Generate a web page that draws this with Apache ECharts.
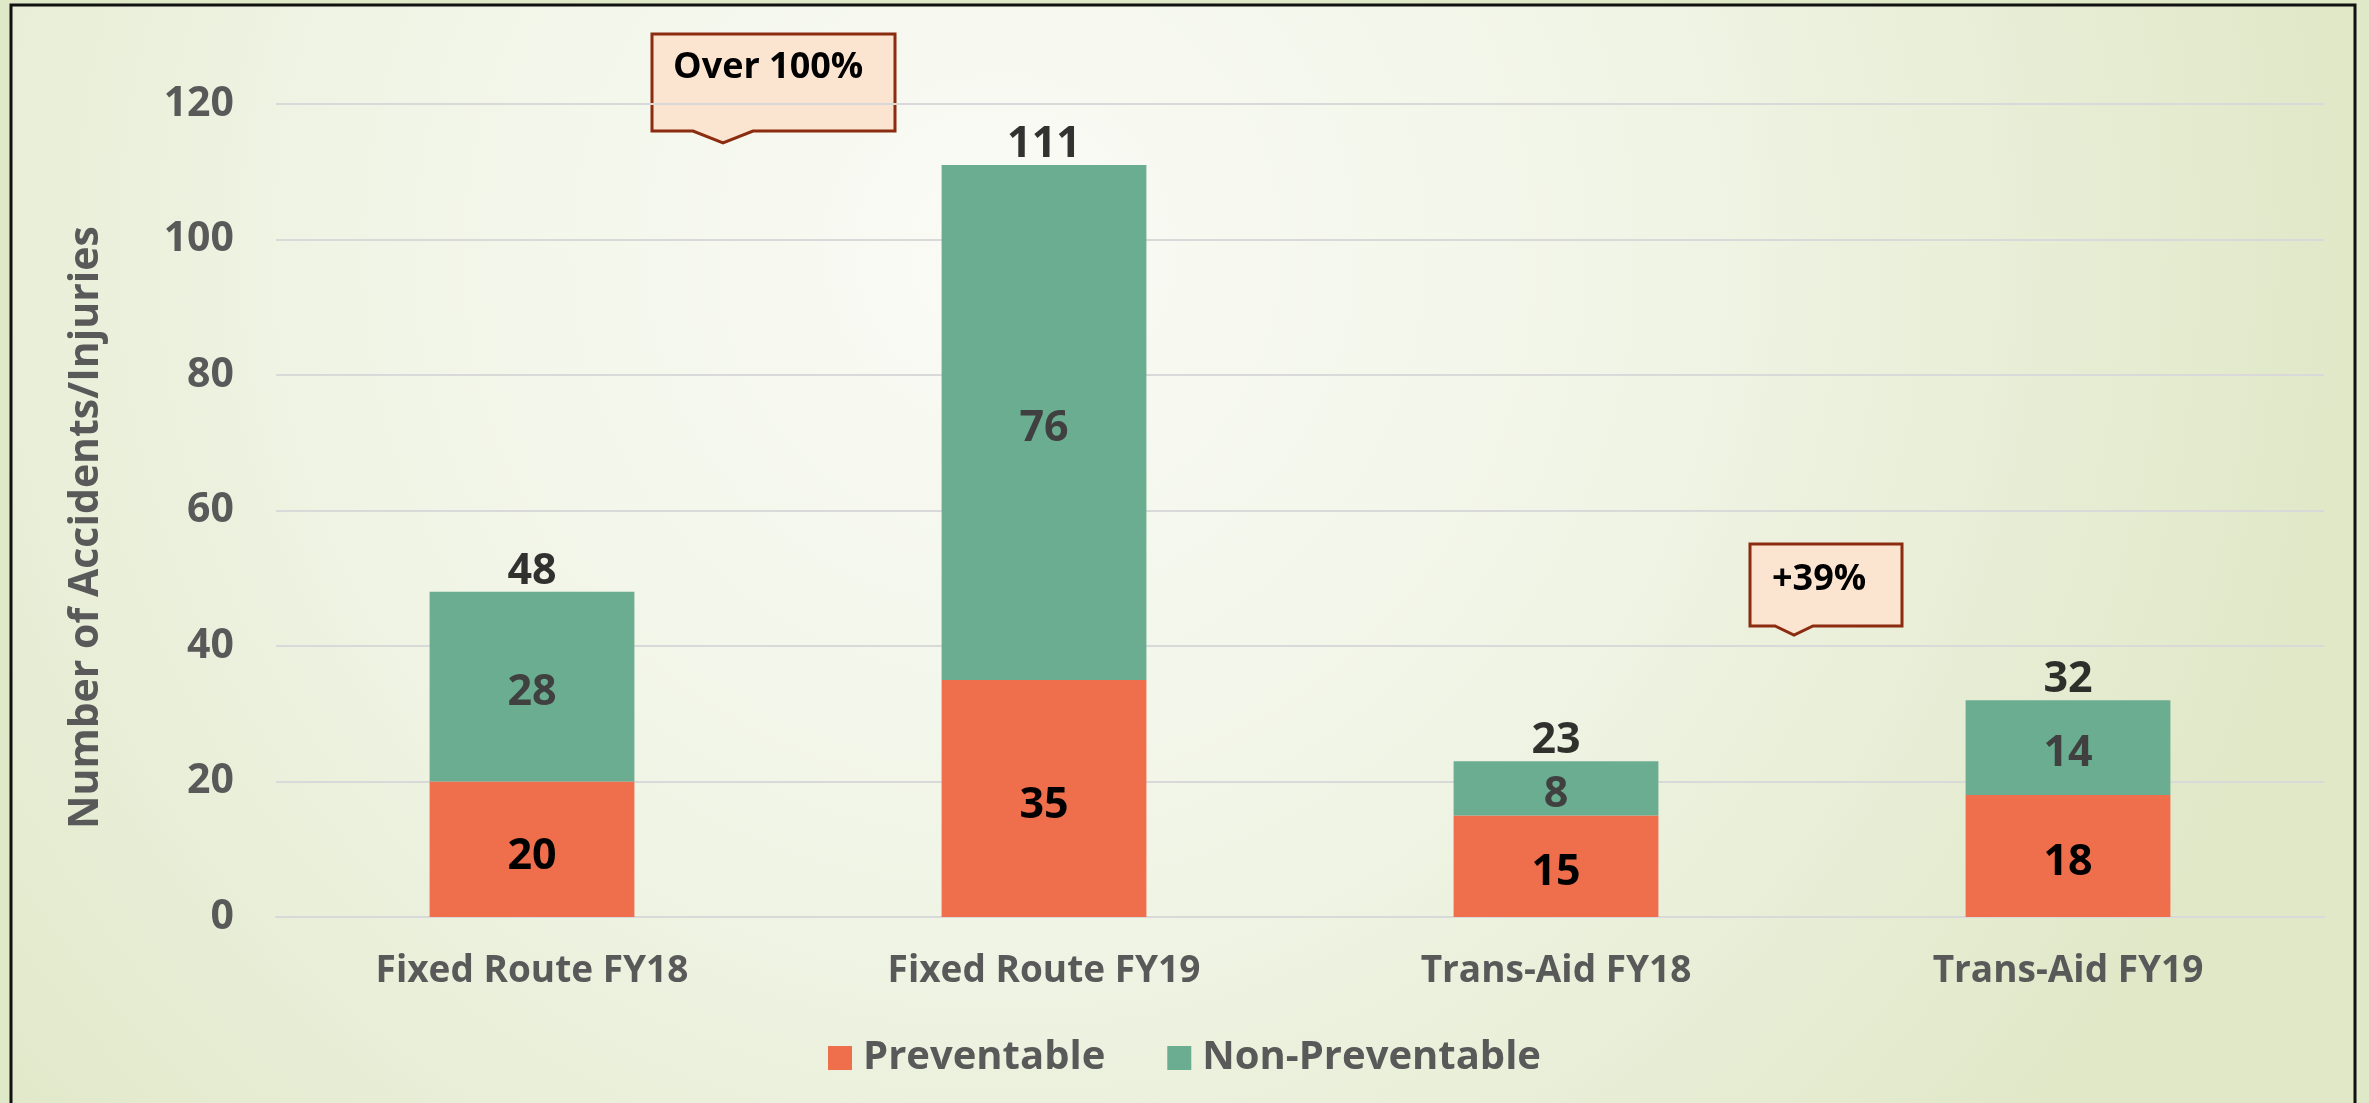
<!DOCTYPE html>
<html>
<head>
<meta charset="utf-8">
<script src="https://cdn.jsdelivr.net/npm/echarts@6/dist/echarts.min.js"></script>
<style>
    body { margin: 0; }
    #chart { width: 2369px; height: 1103px; }
</style>
</head>
<body>
<div id="chart"></div>
<script>
let categories = ['Fixed Route FY18', 'Fixed Route FY19', 'Trans-Aid FY18', 'Trans-Aid FY19']
let preventable = [20, 35, 15, 18]
let non_preventable = [28, 76, 8, 14]
let totals = [48, 111, 23, 32]
let y_ticks = [0, 20, 40, 60, 80, 100, 120]

const font = 'Open Sans'
const grey_text = '#595959'

function callout(points, text, tx, ty) {
    return {
        type: 'group',
        children: [
            {
                type: 'polygon',
                shape: { points: points },
                style: { fill: '#fbe5d1', stroke: '#8b2b10', lineWidth: 3 }
            },
            {
                type: 'text',
                x: tx,
                y: ty,
                style: {
                    text: text,
                    fill: '#000',
                    font: 'bold 36px "' + font + '"',
                    textVerticalAlign: 'middle'
                }
            }
        ]
    }
}

let option = {
    backgroundColor: '#dfe8c7',
    textStyle: { fontFamily: font },
    graphic: [
        {
            type: 'rect',
            z: -100,
            shape: { x: 11, y: 5, width: 2344, height: 1110 },
            style: {
                fill: {
                    type: 'radial', x: 1000, y: 250, r: 1350, global: true,
                    colorStops: [
                        { offset: 0, color: '#fafbf6' },
                        { offset: 0.5, color: '#f0f4e5' },
                        { offset: 1, color: '#e0e8c8' }
                    ]
                },
                stroke: '#111',
                lineWidth: 3
            }
        },
        callout([[652, 34], [895, 34], [895, 131], [753, 131], [723, 143], [693, 131], [652, 131]], 'Over 100%', 673, 68),
        callout([[1750, 544], [1902, 544], [1902, 626], [1813, 626], [1794, 635], [1775, 626], [1750, 626]], '+39%', 1772, 580)
    ],
    legend: {
        data: ['Preventable', 'Non-Preventable'],
        bottom: 20,
        left: 'center',
        icon: 'rect',
        itemWidth: 24,
        itemHeight: 24,
        itemGap: 62,
        textStyle: {
            fontSize: 40,
            fontWeight: 'bold',
            color: grey_text,
            fontFamily: font,
            padding: [0, 0, 0, 6]
        }
    },
    grid: {
        left: 276,
        right: 45,
        top: 104,
        bottom: 186
    },
    xAxis: {
        type: 'category',
        data: categories,
        axisTick: { show: false },
        axisLine: { lineStyle: { color: '#d9d9d9', width: 2 } },
        axisLabel: {
            margin: 36,
            fontSize: 37,
            fontWeight: 'bold',
            color: grey_text,
            fontFamily: font
        }
    },
    yAxis: {
        type: 'value',
        min: y_ticks[0],
        max: y_ticks[y_ticks.length - 1],
        interval: 20,
        name: 'Number of Accidents/Injuries',
        nameLocation: 'middle',
        nameGap: 169,
        nameTextStyle: {
            fontSize: 41,
            fontWeight: 'bold',
            color: grey_text,
            fontFamily: font,
            padding: [0, 34, 0, 0]
        },
        axisLabel: {
            margin: 42,
            fontSize: 41,
            fontWeight: 'bold',
            color: grey_text,
            fontFamily: font
        },
        splitLine: { lineStyle: { color: '#d9d9d9', width: 2 } }
    },
    series: [
        {
            name: 'Preventable',
            type: 'bar',
            stack: 'total',
            barWidth: '40%',
            data: preventable,
            itemStyle: { color: '#ef6e4c' },
            label: {
                show: true,
                position: 'inside',
                offset: [0, 7],
                fontSize: 43,
                fontWeight: 'bold',
                color: '#000',
                fontFamily: font
            }
        },
        {
            name: 'Non-Preventable',
            type: 'bar',
            stack: 'total',
            barWidth: '40%',
            data: non_preventable,
            itemStyle: { color: '#6aad91' },
            label: {
                show: true,
                position: 'inside',
                offset: [0, 6],
                fontSize: 43,
                fontWeight: 'bold',
                color: '#404040',
                fontFamily: font
            }
        },
        {
            name: 'Total',
            type: 'scatter',
            data: totals,
            symbolSize: 1,
            itemStyle: { color: 'rgba(0,0,0,0)' },
            silent: true,
            label: {
                show: true,
                position: 'top',
                distance: -2,
                fontSize: 43,
                fontWeight: 'bold',
                color: '#000',
                fontFamily: font
            }
        }
    ]
}

const dom = document.getElementById('chart')
const myChart = echarts.init(dom)
myChart.setOption(option, true)
</script>
</body>
</html>
